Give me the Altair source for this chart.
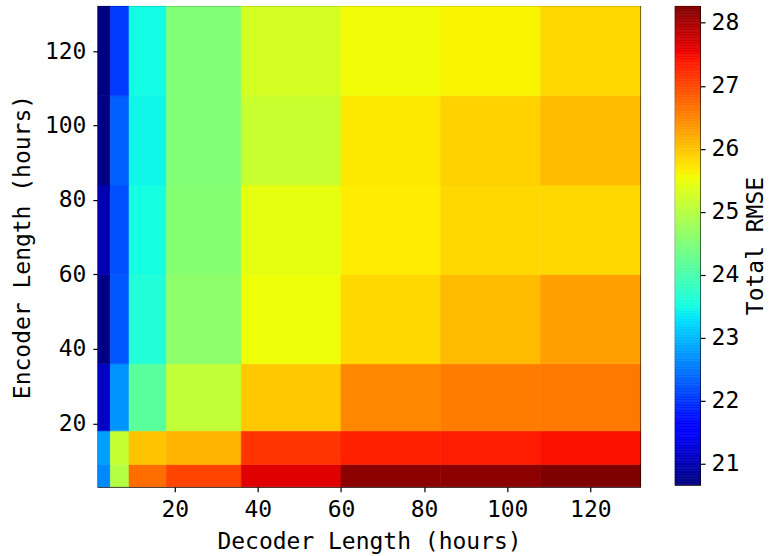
import altair as alt
import numpy as np
import pandas as pd

# ---- data ----
decoder_hours = [3, 6, 12, 24, 48, 72, 96, 120]
encoder_hours = [6, 12, 24, 48, 72, 96, 120]
rmse_enc_6 = [22.63, 24.98, 26.70, 27.03, 27.62, 28.18, 28.18, 28.26]
rmse_enc_12 = [22.81, 25.13, 26.00, 26.13, 27.16, 27.32, 27.35, 27.45]
rmse_enc_24 = [21.14, 22.72, 24.15, 25.10, 25.97, 26.48, 26.58, 26.61]
rmse_enc_48 = [20.70, 22.27, 23.62, 24.62, 25.53, 25.84, 26.07, 26.29]
rmse_enc_72 = [20.99, 22.21, 23.52, 24.55, 25.44, 25.68, 25.84, 25.84]
rmse_enc_96 = [20.70, 22.33, 23.46, 24.50, 25.17, 25.71, 25.89, 26.07]
rmse_enc_120 = [20.67, 22.04, 23.50, 24.50, 25.28, 25.55, 25.62, 25.84]
rmse_rows = [rmse_enc_6, rmse_enc_12, rmse_enc_24, rmse_enc_48,
             rmse_enc_72, rmse_enc_96, rmse_enc_120]
x_ticks = [20, 40, 60, 80, 100, 120]
y_ticks = [20, 40, 60, 80, 100, 120]
cbar_ticks = [21, 22, 23, 24, 25, 26, 27, 28]


def edges(v):
    v = np.asarray(v, dtype=float)
    mid = (v[:-1] + v[1:]) / 2
    return np.concatenate([[v[0] - (v[1] - v[0]) / 2], mid,
                           [v[-1] + (v[-1] - v[-2]) / 2]])


xe = edges(decoder_hours)
ye = edges(encoder_hours)

rows = []
for i, enc in enumerate(encoder_hours):
    for j, dec in enumerate(decoder_hours):
        rows.append({"decoder": dec, "encoder": enc,
                     "x0": xe[j], "x1": xe[j + 1],
                     "y0": ye[i], "y1": ye[i + 1],
                     "rmse": rmse_rows[i][j]})
df = pd.DataFrame(rows)

vmin = float(df["rmse"].min())
vmax = float(df["rmse"].max())

# ---- jet colormap (matplotlib definition) ----
_jet = {
    "r": [(0, 0), (0.35, 0), (0.66, 1), (0.89, 1), (1, 0.5)],
    "g": [(0, 0), (0.125, 0), (0.375, 1), (0.64, 1), (0.91, 0), (1, 0)],
    "b": [(0, 0.5), (0.11, 1), (0.34, 1), (0.65, 0), (1, 0)],
}
stops = sorted(set(t for ch in _jet.values() for t, _ in ch))


def jet_hex(t):
    out = []
    for ch in ("r", "g", "b"):
        xs = [p[0] for p in _jet[ch]]
        ys = [p[1] for p in _jet[ch]]
        out.append(int(round(float(np.interp(t, xs, ys)) * 255)))
    return "#%02x%02x%02x" % tuple(out)


color_scale = alt.Scale(domain=[vmin + t * (vmax - vmin) for t in stops],
                        range=[jet_hex(t) for t in stops],
                        interpolate="rgb", clamp=True)

FONT = "DejaVu Sans Mono"
FS = 23

heat = alt.Chart(df).mark_rect(strokeWidth=0.6).encode(
    x=alt.X("x0:Q", scale=alt.Scale(domain=[xe[0], xe[-1]], nice=False, zero=False),
            axis=alt.Axis(values=x_ticks, title="Decoder Length (hours)",
                          titlePadding=9)),
    x2="x1:Q",
    y=alt.Y("y0:Q", scale=alt.Scale(domain=[ye[0], ye[-1]], nice=False, zero=False),
            axis=alt.Axis(values=y_ticks, title="Encoder Length (hours)",
                          titlePadding=10)),
    y2="y1:Q",
    color=alt.Color("rmse:Q", scale=color_scale, legend=None),
    stroke=alt.Stroke("rmse:Q", scale=color_scale, legend=None),
).properties(width=543, height=481)

cb_vals = np.linspace(vmin, vmax, 301)
cb = pd.DataFrame({"lo": cb_vals[:-1], "hi": cb_vals[1:],
                   "mid": (cb_vals[:-1] + cb_vals[1:]) / 2})

colorbar = alt.Chart(cb).mark_rect(strokeWidth=0.6).encode(
    x=alt.value(0), x2=alt.value(25),
    y=alt.Y("lo:Q", scale=alt.Scale(domain=[vmin, vmax], nice=False, zero=False),
            axis=alt.Axis(orient="right", values=cbar_ticks, title="Total RMSE",
                          titleAngle=270, titleBaseline="top", titlePadding=6,
                          labelPadding=6)),
    y2="hi:Q",
    color=alt.Color("mid:Q", scale=color_scale, legend=None),
    stroke=alt.Stroke("mid:Q", scale=color_scale, legend=None),
).properties(width=25, height=479)

chart = alt.hconcat(heat, colorbar, spacing=33).properties(
    padding={"left": 10, "top": 5, "right": 0, "bottom": 0},
    background="white",
).configure_axis(
    domain=False, grid=False,
    tickColor="black", tickSize=5, tickWidth=1.2,
    labelFont=FONT, labelFontSize=FS, labelColor="black", labelPadding=7,
    titleFont=FONT, titleFontSize=FS, titleColor="black", titleFontWeight="normal",
).configure_view(stroke="black", strokeWidth=1.2)

chart.save("out.html", embed_options={"renderer": "svg", "actions": False})
